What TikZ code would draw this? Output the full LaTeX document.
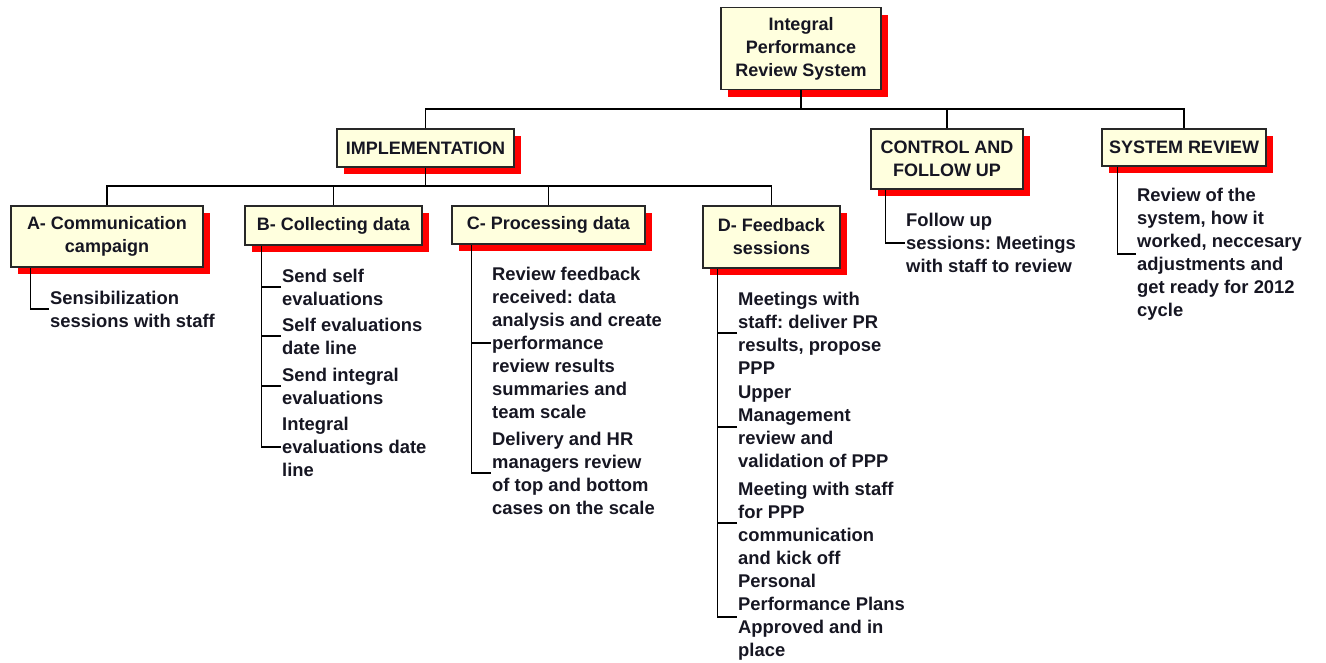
\documentclass[tikz,border=0pt]{standalone}
\usepackage{fontspec}
\setmainfont{Liberation Sans}
\usetikzlibrary{shadows}
\frenchspacing
\definecolor{boxfill}{RGB}{255,255,222}
\definecolor{boxline}{RGB}{40,40,40}
\definecolor{inkc}{RGB}{22,22,34}
\tikzset{
  wbs/.style={draw=boxline, line width=1.5pt, fill=boxfill, align=center,
    inner sep=0pt, text=inkc,
    font=\fontsize{18}{23}\selectfont\bfseries,
    drop shadow={fill=red, opacity=1, shadow xshift=7pt, shadow yshift=-7pt}},
  leaf/.style={anchor=west, align=left, inner xsep=1pt, inner ysep=0pt, text=inkc,
    font=\fontsize{18.4}{23}\selectfont\bfseries},
  link/.style={draw=black, line width=1.4pt}
}
\begin{document}
\begin{tikzpicture}[x=1pt, y=-1pt]
\useasboundingbox (0,0) rectangle (1326,662);

% top level
\node[wbs, minimum width=160pt, minimum height=82pt] (top) at (801,48.5)
  {Integral\\Performance\\Review System};

% second level
\node[wbs, minimum width=177pt, minimum height=38pt] (impl) at (425.5,148) {IMPLEMENTATION};
\node[wbs, minimum width=152pt, minimum height=60pt] (ctrl) at (947,159) {CONTROL AND\\FOLLOW UP};
\node[wbs, minimum width=164pt, minimum height=37pt] (sysrev) at (1184,147.5) {SYSTEM REVIEW};

% third level
\node[wbs, minimum width=192pt, minimum height=61pt] (A) at (107,236.5) {A- Communication\\campaign};
\node[wbs, minimum width=177pt, minimum height=39pt] (B) at (333.5,225.5) {B- Collecting data};
\node[wbs, minimum width=193pt, minimum height=38pt] (C) at (548.5,225) {C- Processing data};
\node[wbs, minimum width=137pt, minimum height=62pt] (D) at (771.5,237) {D- Feedback\\sessions};

% bus lines
\coordinate (bus1) at (0,109);
\coordinate (bus2) at (0,186);
\draw[link] (top.south) -- (top.south |- bus1);
\draw[link] (impl.north) |- (bus1 -| sysrev.north) -- (sysrev.north);
\draw[link] (ctrl.north) -- (ctrl.north |- bus1);
\draw[link] (impl.south) -- (impl.south |- bus2);
\draw[link] (A.north) |- (bus2 -| D.north) -- (D.north);
\draw[link] (B.north) -- (B.north |- bus2);
\draw[link] (C.north) -- (C.north |- bus2);

% work packages
\node[leaf] (a1) at (49,309) {Sensibilization\\sessions with staff};

\node[leaf] (b1) at (281,287) {Send self\\evaluations};
\node[leaf] (b2) at (281,336) {Self evaluations\\date line};
\node[leaf] (b3) at (281,386) {Send integral\\evaluations};
\node[leaf] (b4) at (281,447) {Integral\\evaluations date\\line};

\node[leaf] (c1) at (491,343) {Review feedback\\received: data\\analysis and create\\performance\\review results\\summaries and\\team scale};
\node[leaf] (c2) at (491,473) {Delivery and HR\\managers review\\of top and bottom\\cases on the scale};

\node[leaf] (d1) at (737,333) {Meetings with\\staff: deliver PR\\results, propose\\PPP};
\node[leaf] (d2) at (737,427) {Upper\\Management\\review and\\validation of PPP};
\node[leaf] (d3) at (737,523) {Meeting with staff\\for PPP\\communication\\and kick off};
\node[leaf] (d4) at (737,617) {Personal\\Performance Plans\\Approved and in\\place};

\node[leaf] (f1) at (905,243) {Follow up\\sessions: Meetings\\with staff to review};
\node[leaf] (s1) at (1136,254) {Review of the\\system, how it\\worked, neccesary\\adjustments and\\get ready for 2012\\cycle};

% stems from each box to its work packages
\coordinate (stA) at ([xshift=20pt]A.south west);
\coordinate (stB) at ([xshift=17pt]B.south west);
\coordinate (stC) at ([xshift=20pt]C.south west);
\coordinate (stD) at ([xshift=15pt]D.south west);
\coordinate (stF) at ([xshift=15pt]ctrl.south west);
\coordinate (stS) at ([xshift=16pt]sysrev.south west);

\draw[link] (stA) |- (a1.west);
\draw[link] (stB) |- (b4.west);
\foreach \n in {b1,b2,b3} \draw[link] (\n.west) -- (\n.west -| stB);
\draw[link] (stC) |- (c2.west);
\draw[link] (c1.west) -- (c1.west -| stC);
\draw[link] (stD) |- (d4.west);
\foreach \n in {d1,d2,d3} \draw[link] (\n.west) -- (\n.west -| stD);
\draw[link] (stF) |- (f1.west);
\draw[link] (stS) |- (s1.west);
\end{tikzpicture}
\end{document}
